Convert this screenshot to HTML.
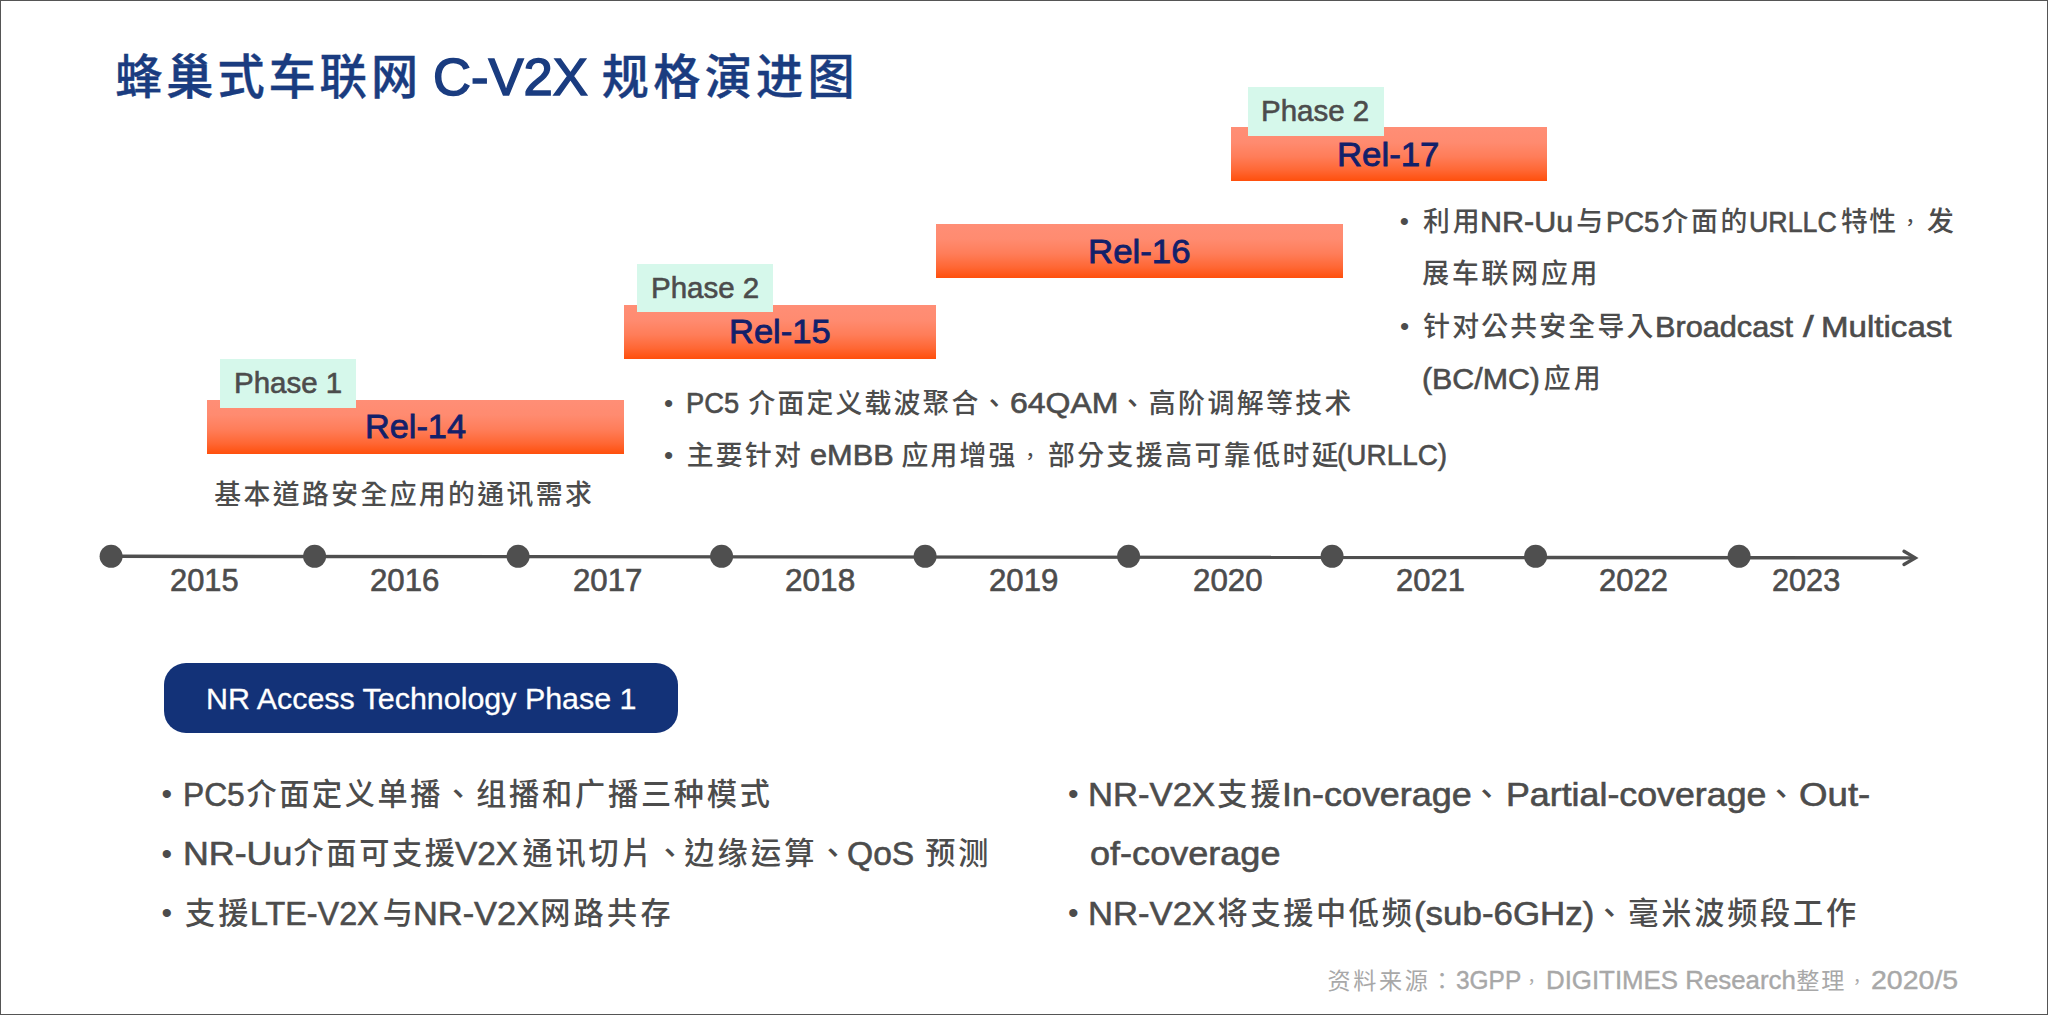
<!DOCTYPE html>
<html lang="zh-Hant">
<head>
<meta charset="utf-8">
<title>蜂巢式车联网 C-V2X 规格演进图</title>
<style>

html,body{margin:0;padding:0;}
body{width:2048px;height:1015px;position:relative;overflow:hidden;background:#fff;
 font-family:"Liberation Sans","Noto Sans CJK TC","Noto Sans CJK SC",sans-serif;}
#frame{position:absolute;left:0;top:0;width:2046px;height:1013px;border:1px solid #555;z-index:10;pointer-events:none;}
.t{position:absolute;white-space:nowrap;line-height:80px;height:80px;margin:0;padding:0;}
.lw{display:inline-block;vertical-align:baseline;white-space:pre;}
.li{display:inline-block;transform-origin:0 50%;white-space:pre;font-family:"Liberation Sans",sans-serif;font-weight:400;}
.c{position:relative;font-family:"Liberation Sans","Noto Sans CJK TC","Noto Sans CJK SC",sans-serif;}
.b{font-family:"Liberation Sans",sans-serif;font-weight:400;}
.bar{position:absolute;background:linear-gradient(to bottom,#ff8e76 0%,#ff8b70 28%,#ff7d59 55%,#ff6734 80%,#ff4f0c 100%);}
.ph{position:absolute;background:#d6f8eb;}
#pillbox{position:absolute;left:164px;top:662.9px;width:514.4px;height:70.6px;border-radius:22px;background:#133278;}
svg{position:absolute;left:0;top:0;}

</style>
</head>
<body>
<div class="bar" style="left:207px;top:400px;width:416.75px;height:54.1px"></div>
<div class="bar" style="left:623.75px;top:304.5px;width:312.15px;height:54.1px"></div>
<div class="bar" style="left:935.9px;top:223.8px;width:407.1px;height:54.4px"></div>
<div class="bar" style="left:1231.25px;top:127px;width:315.5px;height:54.4px"></div>
<div class="ph" style="left:219.5px;top:359px;width:136px;height:48.6px"></div>
<div class="ph" style="left:637px;top:264.25px;width:136.25px;height:47.85px"></div>
<div class="ph" style="left:1247.5px;top:86.75px;width:136.25px;height:48.75px"></div>
<div id="pillbox"></div>
<svg width="2048" height="1015" viewBox="0 0 2048 1015">
<line x1="111" y1="556.3" x2="1914" y2="557.9" stroke="#4f4f4f" stroke-width="3.4"/>
<polyline points="1904,551.3 1915.2,557.9 1904,564.5" fill="none" stroke="#4f4f4f" stroke-width="3.4" stroke-linecap="round" stroke-linejoin="miter"/>
<circle cx="111.1" cy="556.3" r="11.5" fill="#4f4f4f"/>
<circle cx="314.6" cy="556.3" r="11.5" fill="#4f4f4f"/>
<circle cx="518.1" cy="556.3" r="11.5" fill="#4f4f4f"/>
<circle cx="721.6" cy="556.3" r="11.5" fill="#4f4f4f"/>
<circle cx="925.1" cy="556.3" r="11.5" fill="#4f4f4f"/>
<circle cx="1128.6" cy="556.3" r="11.5" fill="#4f4f4f"/>
<circle cx="1332.1" cy="556.3" r="11.5" fill="#4f4f4f"/>
<circle cx="1535.6" cy="556.3" r="11.5" fill="#4f4f4f"/>
<circle cx="1739.1" cy="556.3" r="11.5" fill="#4f4f4f"/>
</svg>
<div class="t" id="t1" style="left:115.13px;top:40.21px;color:#1a3c80;font-weight:500"><span class="c" style="font-size:47.18px;letter-spacing:3.985px;top:-2.20px;-webkit-text-stroke:0.4px #1a3c80;">蜂巢式车联网</span></div>
<div class="t" id="t2" style="left:432.54px;top:36.86px;color:#1a3c80;font-weight:400"><span class="lw" style="width:154.94px"><span class="li" style="font-size:51.5px;transform:scaleX(1.0214);-webkit-text-stroke:1.5px #1a3c80;">C-V2X</span></span></div>
<div class="t" id="t3" style="left:601.86px;top:40.21px;color:#1a3c80;font-weight:500"><span class="c" style="font-size:47.18px;letter-spacing:4.225px;top:-2.20px;-webkit-text-stroke:0.4px #1a3c80;">规格演进图</span></div>
<div class="t" id="p1" style="left:233.60px;top:343.40px;color:#4c4c4c;font-weight:500"><span class="lw" style="width:108.25px"><span class="li" style="font-size:29.75px;transform:scaleX(0.9916);-webkit-text-stroke:0.6px #4c4c4c;">Phase 1</span></span></div>
<div class="t" id="p2" style="left:651.10px;top:248.40px;color:#4c4c4c;font-weight:500"><span class="lw" style="width:108.28px"><span class="li" style="font-size:29.75px;transform:scaleX(0.9918);-webkit-text-stroke:0.6px #4c4c4c;">Phase 2</span></span></div>
<div class="t" id="p3" style="left:1261.18px;top:71.40px;color:#4c4c4c;font-weight:500"><span class="lw" style="width:108.26px"><span class="li" style="font-size:29.75px;transform:scaleX(0.9916);-webkit-text-stroke:0.6px #4c4c4c;">Phase 2</span></span></div>
<div class="t" id="r14" style="left:364.78px;top:387.26px;color:#12206a;font-weight:500"><span class="lw" style="width:100.98px"><span class="li" style="font-size:33.2px;transform:scaleX(1.0328);-webkit-text-stroke:0.8px #12206a;">Rel-14</span></span></div>
<div class="t" id="r15" style="left:728.82px;top:292.26px;color:#12206a;font-weight:500"><span class="lw" style="width:101.66px"><span class="li" style="font-size:33.2px;transform:scaleX(1.0398);-webkit-text-stroke:0.8px #12206a;">Rel-15</span></span></div>
<div class="t" id="r16" style="left:1087.78px;top:211.76px;color:#12206a;font-weight:500"><span class="lw" style="width:102.49px"><span class="li" style="font-size:33.2px;transform:scaleX(1.0484);-webkit-text-stroke:0.8px #12206a;">Rel-16</span></span></div>
<div class="t" id="r17" style="left:1337.49px;top:114.76px;color:#12206a;font-weight:500"><span class="lw" style="width:102.45px"><span class="li" style="font-size:33.2px;transform:scaleX(1.0479);-webkit-text-stroke:0.8px #12206a;">Rel-17</span></span></div>
<div class="t" id="d14" style="left:214.37px;top:455.51px;color:#4c4c4c;font-weight:500"><span class="c" style="font-size:26.83px;letter-spacing:2.387px;top:-0.73px;">基本道路安全应用的通讯需求</span></div>
<div class="t" id="b15a0" style="left:685.63px;top:363.31px;color:#4c4c4c;font-weight:500"><span class="lw" style="width:53.11px"><span class="li" style="font-size:29.7px;transform:scaleX(0.9194);-webkit-text-stroke:0.6px #4c4c4c;">PC5</span></span></div>
<div class="t" id="b15a1" style="left:748.47px;top:364.31px;color:#4c4c4c;font-weight:500"><span class="c" style="font-size:26.83px;letter-spacing:2.190px;top:-0.73px;">介面定义载波聚合</span><span class="c nf" style="font-size:26.83px;letter-spacing:2.190px;top:-0.73px;">、</span></div>
<div class="t" id="b15a2" style="left:1010.41px;top:363.31px;color:#4c4c4c;font-weight:500"><span class="lw" style="width:108.53px"><span class="li" style="font-size:29.7px;transform:scaleX(1.0783);-webkit-text-stroke:0.6px #4c4c4c;">64QAM</span></span><span class="c nf" style="font-size:26.83px;letter-spacing:2.175px;top:-0.73px;">、</span></div>
<div class="t" id="b15a3" style="left:1148.79px;top:364.31px;color:#4c4c4c;font-weight:500"><span class="c" style="font-size:26.83px;letter-spacing:2.473px;top:-0.73px;">高阶调解等技术</span></div>
<div class="t" id="b15b0" style="left:686.65px;top:416.41px;color:#4c4c4c;font-weight:500"><span class="c" style="font-size:26.83px;letter-spacing:2.294px;top:-0.73px;">主要针对</span></div>
<div class="t" id="b15b1" style="left:809.56px;top:415.41px;color:#4c4c4c;font-weight:500"><span class="lw" style="width:83.63px"><span class="li" style="font-size:29.7px;transform:scaleX(1.0345);-webkit-text-stroke:0.6px #4c4c4c;">eMBB</span></span></div>
<div class="t" id="b15b2" style="left:901.61px;top:416.41px;color:#4c4c4c;font-weight:500"><span class="c" style="font-size:26.83px;letter-spacing:2.170px;top:-0.73px;">应用增强</span><span class="c nf" style="font-size:19.85px;letter-spacing:9.145px;top:-1.74px;left:2.75px;">，</span></div>
<div class="t" id="b15b3" style="left:1047.90px;top:416.41px;color:#4c4c4c;font-weight:500"><span class="c" style="font-size:26.83px;letter-spacing:2.497px;top:-0.73px;">部分支援高可靠低时延</span></div>
<div class="t" id="b15b4" style="left:1337.49px;top:415.41px;color:#4c4c4c;font-weight:500"><span class="lw" style="width:110.18px"><span class="li" style="font-size:29.7px;transform:scaleX(0.9407);-webkit-text-stroke:0.6px #4c4c4c;">(URLLC)</span></span></div>
<div class="t" id="b17a0" style="left:1423.06px;top:182.81px;color:#4c4c4c;font-weight:500"><span class="c" style="font-size:26.83px;letter-spacing:2.975px;top:-0.73px;">利用</span></div>
<div class="t" id="b17a1" style="left:1479.87px;top:181.81px;color:#4c4c4c;font-weight:500"><span class="lw" style="width:93.07px"><span class="li" style="font-size:29.7px;transform:scaleX(1.0260);-webkit-text-stroke:0.6px #4c4c4c;">NR-Uu</span></span></div>
<div class="t" id="b17a2" style="left:1576.18px;top:182.81px;color:#4c4c4c;font-weight:500"><span class="c" style="font-size:26.83px;letter-spacing:2.175px;top:-0.73px;">与</span></div>
<div class="t" id="b17a3" style="left:1605.82px;top:181.81px;color:#4c4c4c;font-weight:500"><span class="lw" style="width:53.38px"><span class="li" style="font-size:29.7px;transform:scaleX(0.9240);-webkit-text-stroke:0.6px #4c4c4c;">PC5</span></span></div>
<div class="t" id="b17a4" style="left:1661.38px;top:182.81px;color:#4c4c4c;font-weight:500"><span class="c" style="font-size:26.83px;letter-spacing:2.708px;top:-0.73px;">介面的</span></div>
<div class="t" id="b17a5" style="left:1749.34px;top:181.81px;color:#4c4c4c;font-weight:500"><span class="lw" style="width:87.71px"><span class="li" style="font-size:29.7px;transform:scaleX(0.9011);-webkit-text-stroke:0.6px #4c4c4c;">URLLC</span></span></div>
<div class="t" id="b17a6" style="left:1841.04px;top:182.81px;color:#4c4c4c;font-weight:500"><span class="c" style="font-size:26.83px;letter-spacing:1.375px;top:-0.73px;">特性</span><span class="c nf" style="font-size:19.85px;letter-spacing:8.349px;top:-1.74px;left:2.75px;">，</span></div>
<div class="t" id="b17a7" style="left:1927.12px;top:182.81px;color:#4c4c4c;font-weight:500"><span class="c" style="font-size:26.83px;letter-spacing:2.175px;top:-0.73px;">发</span></div>
<div class="t" id="b17b" style="left:1422.31px;top:235.21px;color:#4c4c4c;font-weight:500"><span class="c" style="font-size:26.83px;letter-spacing:2.822px;top:-0.73px;">展车联网应用</span></div>
<div class="t" id="b17c0" style="left:1423.14px;top:287.81px;color:#4c4c4c;font-weight:500"><span class="c" style="font-size:26.83px;letter-spacing:2.221px;top:-0.73px;">针对公共安全导入</span></div>
<div class="t" id="b17c1" style="left:1655.47px;top:286.81px;color:#4c4c4c;font-weight:500"><span class="lw" style="width:138.08px"><span class="li" style="font-size:29.7px;transform:scaleX(1.0330);-webkit-text-stroke:0.6px #4c4c4c;">Broadcast</span></span></div>
<div class="t" id="b17c2" style="left:1802.83px;top:286.81px;color:#4c4c4c;font-weight:500"><span class="lw" style="width:10.72px"><span class="li" style="font-size:29.7px;transform:scaleX(1.3000);-webkit-text-stroke:0.6px #4c4c4c;">/</span></span></div>
<div class="t" id="b17c3" style="left:1821.38px;top:286.81px;color:#4c4c4c;font-weight:500"><span class="lw" style="width:130.52px"><span class="li" style="font-size:29.7px;transform:scaleX(1.1143);-webkit-text-stroke:0.6px #4c4c4c;">Multicast</span></span></div>
<div class="t" id="b17d0" style="left:1422.49px;top:338.60px;color:#4c4c4c;font-weight:500"><span class="lw" style="width:117.88px"><span class="li" style="font-size:29.7px;transform:scaleX(1.0212);-webkit-text-stroke:0.6px #4c4c4c;">(BC/MC)</span></span></div>
<div class="t" id="b17d1" style="left:1543.83px;top:339.60px;color:#4c4c4c;font-weight:500"><span class="c" style="font-size:26.83px;letter-spacing:2.975px;top:-0.73px;">应用</span></div>
<div class="t" id="y15" style="left:170.24px;top:541.46px;color:#4c4c4c;font-weight:500"><span class="lw" style="width:68.64px"><span class="li" style="font-size:30.9px;transform:scaleX(0.9986);-webkit-text-stroke:0.6px #4c4c4c;">2015</span></span></div>
<div class="t" id="y16" style="left:370.18px;top:541.46px;color:#4c4c4c;font-weight:500"><span class="lw" style="width:69.50px"><span class="li" style="font-size:30.9px;transform:scaleX(1.0112);-webkit-text-stroke:0.6px #4c4c4c;">2016</span></span></div>
<div class="t" id="y17" style="left:572.51px;top:541.46px;color:#4c4c4c;font-weight:500"><span class="lw" style="width:69.46px"><span class="li" style="font-size:30.9px;transform:scaleX(1.0106);-webkit-text-stroke:0.6px #4c4c4c;">2017</span></span></div>
<div class="t" id="y18" style="left:785.40px;top:541.46px;color:#4c4c4c;font-weight:500"><span class="lw" style="width:70.19px"><span class="li" style="font-size:30.9px;transform:scaleX(1.0213);-webkit-text-stroke:0.6px #4c4c4c;">2018</span></span></div>
<div class="t" id="y19" style="left:989.25px;top:541.46px;color:#4c4c4c;font-weight:500"><span class="lw" style="width:69.46px"><span class="li" style="font-size:30.9px;transform:scaleX(1.0105);-webkit-text-stroke:0.6px #4c4c4c;">2019</span></span></div>
<div class="t" id="y20" style="left:1192.61px;top:541.46px;color:#4c4c4c;font-weight:500"><span class="lw" style="width:69.64px"><span class="li" style="font-size:30.9px;transform:scaleX(1.0131);-webkit-text-stroke:0.6px #4c4c4c;">2020</span></span></div>
<div class="t" id="y21" style="left:1396.33px;top:541.46px;color:#4c4c4c;font-weight:500"><span class="lw" style="width:68.90px"><span class="li" style="font-size:30.9px;transform:scaleX(1.0024);-webkit-text-stroke:0.6px #4c4c4c;">2021</span></span></div>
<div class="t" id="y22" style="left:1599.38px;top:541.46px;color:#4c4c4c;font-weight:500"><span class="lw" style="width:68.87px"><span class="li" style="font-size:30.9px;transform:scaleX(1.0019);-webkit-text-stroke:0.6px #4c4c4c;">2022</span></span></div>
<div class="t" id="y23" style="left:1772.47px;top:541.46px;color:#4c4c4c;font-weight:500"><span class="lw" style="width:68.20px"><span class="li" style="font-size:30.9px;transform:scaleX(0.9923);-webkit-text-stroke:0.6px #4c4c4c;">2023</span></span></div>
<div class="t" id="pill" style="left:205.60px;top:658.01px;color:#ffffff;font-weight:500"><span class="lw" style="width:430.50px"><span class="li" style="font-size:30.4px;transform:scaleX(1.0007);-webkit-text-stroke:0.3px #ffffff;">NR Access Technology Phase 1</span></span></div>
<div class="t" id="la0" style="left:183.44px;top:753.60px;color:#4c4c4c;font-weight:500"><span class="lw" style="width:61.75px"><span class="li" style="font-size:34.1px;transform:scaleX(0.9314);-webkit-text-stroke:0.6px #4c4c4c;">PC5</span></span></div>
<div class="t" id="la1" style="left:246.62px;top:755.60px;color:#4c4c4c;font-weight:500"><span class="c" style="font-size:30.16px;letter-spacing:2.593px;top:-0.82px;">介面定义单播</span><span class="c nf" style="font-size:30.16px;letter-spacing:2.593px;top:-0.82px;">、</span></div>
<div class="t" id="la2" style="left:476.18px;top:755.60px;color:#4c4c4c;font-weight:500"><span class="c" style="font-size:30.16px;letter-spacing:2.785px;top:-0.82px;">组播和广播三种模式</span></div>
<div class="t" id="lb0" style="left:183.25px;top:813.31px;color:#4c4c4c;font-weight:500"><span class="lw" style="width:109.34px"><span class="li" style="font-size:34.1px;transform:scaleX(1.0498);-webkit-text-stroke:0.6px #4c4c4c;">NR-Uu</span></span></div>
<div class="t" id="lb1" style="left:293.51px;top:815.31px;color:#4c4c4c;font-weight:500"><span class="c" style="font-size:30.16px;letter-spacing:2.677px;top:-0.82px;">介面可支援</span></div>
<div class="t" id="lb2" style="left:455.49px;top:813.31px;color:#4c4c4c;font-weight:500"><span class="lw" style="width:62.94px"><span class="li" style="font-size:34.1px;transform:scaleX(0.9771);-webkit-text-stroke:0.6px #4c4c4c;">V2X</span></span></div>
<div class="t" id="lb3" style="left:522.40px;top:815.31px;color:#4c4c4c;font-weight:500"><span class="c" style="font-size:30.16px;letter-spacing:2.947px;top:-0.82px;">通讯切片</span><span class="c nf" style="font-size:30.16px;letter-spacing:2.947px;top:-0.82px;">、</span></div>
<div class="t" id="lb4" style="left:684.14px;top:815.31px;color:#4c4c4c;font-weight:500"><span class="c" style="font-size:30.16px;letter-spacing:3.245px;top:-0.82px;">边缘运算</span><span class="c nf" style="font-size:30.16px;letter-spacing:3.245px;top:-0.82px;">、</span></div>
<div class="t" id="lb5" style="left:847.48px;top:813.31px;color:#4c4c4c;font-weight:500"><span class="lw" style="width:67.31px"><span class="li" style="font-size:34.1px;transform:scaleX(0.9868);-webkit-text-stroke:0.6px #4c4c4c;">QoS</span></span></div>
<div class="t" id="lb6" style="left:925.29px;top:815.31px;color:#4c4c4c;font-weight:500"><span class="c" style="font-size:30.16px;letter-spacing:2.890px;top:-0.82px;">预测</span></div>
<div class="t" id="lc0" style="left:184.88px;top:874.51px;color:#4c4c4c;font-weight:500"><span class="c" style="font-size:30.16px;letter-spacing:3.245px;top:-0.82px;">支援</span></div>
<div class="t" id="lc1" style="left:249.59px;top:872.51px;color:#4c4c4c;font-weight:500"><span class="lw" style="width:128.68px"><span class="li" style="font-size:34.1px;transform:scaleX(0.9480);-webkit-text-stroke:0.6px #4c4c4c;">LTE-V2X</span></span></div>
<div class="t" id="lc2" style="left:382.65px;top:874.51px;color:#4c4c4c;font-weight:500"><span class="c" style="font-size:30.16px;letter-spacing:2.445px;top:-0.82px;">与</span></div>
<div class="t" id="lc3" style="left:412.78px;top:872.51px;color:#4c4c4c;font-weight:500"><span class="lw" style="width:126.10px"><span class="li" style="font-size:34.1px;transform:scaleX(1.0089);-webkit-text-stroke:0.6px #4c4c4c;">NR-V2X</span></span></div>
<div class="t" id="lc4" style="left:540.19px;top:874.51px;color:#4c4c4c;font-weight:500"><span class="c" style="font-size:30.16px;letter-spacing:3.245px;top:-0.82px;">网路共存</span></div>
<div class="t" id="ra0" style="left:1088.33px;top:753.60px;color:#4c4c4c;font-weight:500"><span class="lw" style="width:127.11px"><span class="li" style="font-size:34.1px;transform:scaleX(1.0170);-webkit-text-stroke:0.6px #4c4c4c;">NR-V2X</span></span></div>
<div class="t" id="ra1" style="left:1217.22px;top:755.60px;color:#4c4c4c;font-weight:500"><span class="c" style="font-size:30.16px;letter-spacing:3.245px;top:-0.82px;">支援</span></div>
<div class="t" id="ra2" style="left:1281.79px;top:753.60px;color:#4c4c4c;font-weight:500"><span class="lw" style="width:189.77px"><span class="li" style="font-size:34.1px;transform:scaleX(1.0545);-webkit-text-stroke:0.6px #4c4c4c;">In-coverage</span></span><span class="c nf" style="font-size:30.16px;letter-spacing:2.445px;top:-0.82px;">、</span></div>
<div class="t" id="ra3" style="left:1505.65px;top:753.60px;color:#4c4c4c;font-weight:500"><span class="lw" style="width:260.45px"><span class="li" style="font-size:34.1px;transform:scaleX(1.0496);-webkit-text-stroke:0.6px #4c4c4c;">Partial-coverage</span></span><span class="c nf" style="font-size:30.16px;letter-spacing:2.445px;top:-0.82px;">、</span></div>
<div class="t" id="ra4" style="left:1798.60px;top:753.60px;color:#4c4c4c;font-weight:500"><span class="lw" style="width:71.28px"><span class="li" style="font-size:34.1px;transform:scaleX(1.0754);-webkit-text-stroke:0.6px #4c4c4c;">Out-</span></span></div>
<div class="t" id="rb" style="left:1089.55px;top:812.60px;color:#4c4c4c;font-weight:500"><span class="lw" style="width:190.48px"><span class="li" style="font-size:34.1px;transform:scaleX(1.0584);-webkit-text-stroke:0.6px #4c4c4c;">of-coverage</span></span></div>
<div class="t" id="rc0" style="left:1088.33px;top:872.51px;color:#4c4c4c;font-weight:500"><span class="lw" style="width:127.11px"><span class="li" style="font-size:34.1px;transform:scaleX(1.0170);-webkit-text-stroke:0.6px #4c4c4c;">NR-V2X</span></span></div>
<div class="t" id="rc1" style="left:1217.62px;top:874.51px;color:#4c4c4c;font-weight:500"><span class="c" style="font-size:30.16px;letter-spacing:2.659px;top:-0.82px;">将支援中低频</span></div>
<div class="t" id="rc2" style="left:1413.91px;top:872.51px;color:#4c4c4c;font-weight:500"><span class="lw" style="width:180.32px"><span class="li" style="font-size:34.1px;transform:scaleX(1.0239);-webkit-text-stroke:0.6px #4c4c4c;">(sub-6GHz)</span></span><span class="c nf" style="font-size:30.16px;letter-spacing:2.445px;top:-0.82px;">、</span></div>
<div class="t" id="rc3" style="left:1628.37px;top:874.51px;color:#4c4c4c;font-weight:500"><span class="c" style="font-size:30.16px;letter-spacing:2.772px;top:-0.82px;">毫米波频段工作</span></div>
<div class="t" id="ft0" style="left:1327.45px;top:941.41px;color:#a8a8a8;font-weight:400"><span class="c" style="font-size:23.12px;letter-spacing:2.631px;top:-0.62px;">资料来源</span><span class="c nf" style="font-size:23.12px;letter-spacing:2.631px;top:-0.62px;">：</span></div>
<div class="t" id="ft1" style="left:1455.52px;top:940.41px;color:#a8a8a8;font-weight:400"><span class="lw" style="width:65.21px"><span class="li" style="font-size:26.4px;transform:scaleX(0.9259);-webkit-text-stroke:0.4px #a8a8a8;">3GPP</span></span><span class="c nf" style="font-size:17.11px;letter-spacing:7.887px;top:-1.50px;left:2.38px;">，</span></div>
<div class="t" id="ft2" style="left:1546.31px;top:940.41px;color:#a8a8a8;font-weight:400"><span class="lw" style="width:249.84px"><span class="li" style="font-size:26.4px;transform:scaleX(0.9791);-webkit-text-stroke:0.4px #a8a8a8;">DIGITIMES Research</span></span></div>
<div class="t" id="ft3" style="left:1796.14px;top:941.41px;color:#a8a8a8;font-weight:400"><span class="c" style="font-size:23.12px;letter-spacing:1.897px;top:-0.62px;">整理</span><span class="c nf" style="font-size:17.11px;letter-spacing:7.909px;top:-1.50px;left:2.38px;">，</span></div>
<div class="t" id="ft4" style="left:1871.11px;top:940.41px;color:#a8a8a8;font-weight:400"><span class="lw" style="width:87.14px"><span class="li" style="font-size:26.4px;transform:scaleX(1.0796);-webkit-text-stroke:0.4px #a8a8a8;">2020/5</span></span></div>
<div class="t b" id="bu0" style="left:663.97px;top:363.30px;color:#4c4c4c;font-size:26.25px">•</div>
<div class="t b" id="bu1" style="left:663.97px;top:415.40px;color:#4c4c4c;font-size:26.25px">•</div>
<div class="t b" id="bu2" style="left:1399.83px;top:181.10px;color:#4c4c4c;font-size:26.24px">•</div>
<div class="t b" id="bu3" style="left:1399.95px;top:286.09px;color:#4c4c4c;font-size:26.25px">•</div>
<div class="t b" id="bu4" style="left:161.62px;top:753.87px;color:#4c4c4c;font-size:30.29px">•</div>
<div class="t b" id="bu5" style="left:161.62px;top:813.77px;color:#4c4c4c;font-size:30.29px">•</div>
<div class="t b" id="bu6" style="left:161.62px;top:872.57px;color:#4c4c4c;font-size:30.29px">•</div>
<div class="t b" id="bu7" style="left:1067.92px;top:753.87px;color:#4c4c4c;font-size:30.29px">•</div>
<div class="t b" id="bu8" style="left:1067.92px;top:872.57px;color:#4c4c4c;font-size:30.29px">•</div>
<div id="frame"></div>
</body>
</html>
